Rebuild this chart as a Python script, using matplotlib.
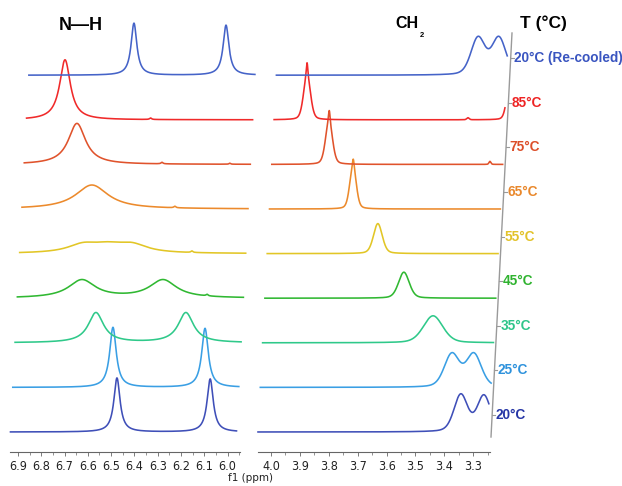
import numpy as np
import matplotlib
matplotlib.use('Agg')
import matplotlib.pyplot as plt
import matplotlib.transforms as mtransforms
from matplotlib.lines import Line2D
from matplotlib.ticker import MultipleLocator, FormatStrFormatter
from matplotlib import font_manager

### Data
temps = ['20°C', '25°C', '35°C', '45°C', '55°C', '65°C', '75°C', '85°C', '20°C (Re-cooled)']
line_colors = ['#3f4fb8', '#3a9fe4', '#2fc98a', '#30b832', '#e2c626',
               '#ec8a2c', '#e0532c', '#f02a2a', '#4563c8']
label_colors = ['#2636a6', '#2e92dc', '#2ec58a', '#2fb32f', '#e2c22a',
                '#e9882c', '#dc4f2a', '#ee2424', '#3a55c0']

# peaks: (position ppm, intensity, half width ppm)
nh_peaks = [
    [(6.475, 54, 0.016), (6.075, 53, 0.016)],
    [(6.502, 60, 0.017), (6.107, 59, 0.017)],
    [(6.585, 30, 0.040), (6.199, 30, 0.040)],
    [(6.655, 18, 0.070), (6.307, 18, 0.070), (6.118, 1.5, 0.005)],
    [(6.66, 8, 0.08), (6.555, 6, 0.08), (6.45, 8, 0.08), (6.193, 1.5, 0.005)],
    [(6.632, 24, 0.085), (6.276, 1.5, 0.005)],
    [(6.706, 41, 0.045), (6.341, 1.5, 0.005), (6.05, 1.0, 0.004)],
    [(6.767, 60, 0.028), (6.40, 1.5, 0.005)],
    [(6.481, 52, 0.015), (6.086, 50, 0.015)],
]
ch2_peaks = [
    [(3.343, 37, 0.028), (3.263, 36, 0.028)],
    [(3.382, 33, 0.031), (3.306, 33, 0.031)],
    [(3.455, 27, 0.040)],
    [(3.564, 26, 0.022)],
    [(3.662, 30, 0.018)],
    [(3.756, 44, 0.013), (3.755, 6, 0.003)],
    [(3.847, 44, 0.014), (3.846, 10, 0.003), (3.29, 3, 0.004)],
    [(3.931, 45, 0.014), (3.931, 12, 0.003), (3.374, 2, 0.005), (3.232, 30, 0.012)],
    [(3.347, 37, 0.029), (3.275, 37, 0.029)],
]
nh_range = (6.932, 5.962)
ch2_range = (4.045, 3.246)


def spectrum(x, peaks, eta):
    y = np.zeros_like(x)
    for c, h, w in peaks:
        d = (x - c) / w
        y += h * (eta / (1 + d ** 2) + (1 - eta) * np.exp(-np.log(2) * d ** 2))
    return y


### Style
plt.rcParams['font.family'] = 'Liberation Sans'
# narrow face for the ppm scale, if one is installed
tick_font = {'family': 'Liberation Sans', 'size': 8}
for f in font_manager.fontManager.ttflist:
    if ('Narrow' in f.name or 'Condensed' in f.name
            or f.stretch in ('condensed', 'semi-condensed')) and f.weight in (400, 'normal', 'regular'):
        tick_font = {'family': f.name, 'stretch': f.stretch, 'size': 9}
        break

W, H = 622, 486
fig = plt.figure(figsize=(W / 100, H / 100), dpi=100)

step = 44.6      # vertical spacing between traces (px)
skew = 1.656     # horizontal shift per trace (pt)
base0 = 20

ax1 = fig.add_axes([10 / W, (H - 452) / H, 230 / W, 452 / H])
ax2 = fig.add_axes([258 / W, (H - 452) / H, 232 / W, 452 / H])

panels = [(ax1, nh_peaks, nh_range, (6.934, 5.947), 1.0),
          (ax2, ch2_peaks, ch2_range, (4.045, 3.242), 0.3)]

for ax, peaks, rng, lim, eta in panels:
    x = np.linspace(rng[0], rng[1], 2000)
    for i, pk in enumerate(peaks):
        tr = mtransforms.offset_copy(ax.transData, fig=fig, x=skew * i, y=0, units='points')
        ax.plot(x, base0 + step * i + spectrum(x, pk, eta), color=line_colors[i],
                lw=1.15, transform=tr, clip_on=False)
    ax.set_xlim(*lim)
    ax.set_ylim(0, 452)
    ax.set_yticks([])
    ax.patch.set_visible(False)
    for s in ['top', 'left', 'right']:
        ax.spines[s].set_visible(False)
    ax.spines['bottom'].set_color('#666666')
    ax.spines['bottom'].set_linewidth(0.8)
    ax.xaxis.set_major_locator(MultipleLocator(0.1))
    ax.xaxis.set_minor_locator(MultipleLocator(0.05))
    ax.xaxis.set_major_formatter(FormatStrFormatter('%.1f'))
    ax.tick_params(axis='x', which='major', direction='out', length=3, width=0.6,
                   color='#666666', labelcolor='#222222', pad=2.5)
    ax.tick_params(axis='x', which='minor', direction='out', length=1.8, width=0.5,
                   color='#666666')
    for lab in ax.get_xticklabels():
        lab.set_fontproperties(font_manager.FontProperties(**tick_font))

fig.text(250 / W, 1 - 478 / H, 'f1 (ppm)', ha='center', va='center',
         fontsize=7.5, color='#222222', family=tick_font['family'])

### Titles
fig.text(81 / W, 1 - 25 / H, 'N\u2014H', ha='center', va='center',
         fontsize=13, fontweight='bold')
ch = fig.text(407 / W, 1 - 24 / H, 'CH', ha='center', va='center',
              fontsize=11.5, fontweight='bold')
ax2.annotate('2', xy=(1, 0), xycoords=ch, xytext=(1, -0.5),
             textcoords='offset points', fontsize=5.5, fontweight='bold',
             va='top', ha='left', annotation_clip=False)
fig.text(543 / W, 1 - 23 / H, 'T (°C)', ha='center', va='center',
         fontsize=12.5, fontweight='bold')

### Temperature axis
x_top, y_top, x_bot, y_bot = 512, 33, 491, 437
fig.add_artist(Line2D([x_top / W, x_bot / W], [1 - y_top / H, 1 - y_bot / H],
                      transform=fig.transFigure, color='#9a9a9a', lw=1.0))
for i, t in enumerate(temps):
    py = 452 - (base0 + step * i) - 17
    lx = x_top + (x_bot - x_top) * (py - y_top) / (y_bot - y_top)
    fig.add_artist(Line2D([lx / W, (lx + 3) / W], [1 - py / H, 1 - py / H],
                          transform=fig.transFigure, color='#9a9a9a', lw=0.8))
    fig.text((lx + 3.5) / W, 1 - py / H, t, ha='left', va='center',
             fontsize=9.8, fontweight='bold', color=label_colors[i])

fig.savefig('out.png', dpi=100)
